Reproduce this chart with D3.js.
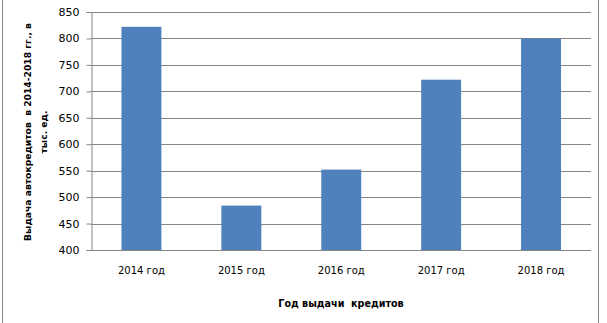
<!DOCTYPE html>
<html>
<head>
<meta charset="utf-8">
<script src="https://cdn.jsdelivr.net/npm/d3@7"></script>
<style>
  html, body { margin: 0; padding: 0; background: #fff; }
  svg { display: block; }
  text { font-family: "DejaVu Sans", Verdana, sans-serif; fill: #000; white-space: pre; }
</style>
</head>
<body>
<svg id="chart" width="607" height="323"></svg>
<script>
// Auto loans issued per year, thousand units
const years = ["2014 год", "2015 год", "2016 год", "2017 год", "2018 год"];
const loans = [822, 484, 552, 722, 800];
const yTicks = [400, 450, 500, 550, 600, 650, 700, 750, 800, 850];

const svg = d3.select("#chart");
const W = 607, H = 323;
const m = { left: 91.5, right: 16, top: 12, bottom: 73 };

// outer frame edges
svg.append("line").attr("x1", 2.5).attr("x2", 2.5).attr("y1", 0).attr("y2", H)
  .attr("stroke", "#868686").attr("stroke-width", 1);
svg.append("line").attr("x1", 598.5).attr("x2", 598.5).attr("y1", 0).attr("y2", H)
  .attr("stroke", "#868686").attr("stroke-width", 1);

const x = d3.scaleBand().domain(years).range([m.left, W - m.right]).paddingInner(0.6).paddingOuter(0.3);
const y = d3.scaleLinear().domain([400, 850]).range([H - m.bottom, m.top]);

// horizontal gridlines
svg.append("g").selectAll("line").data(yTicks).join("line")
  .attr("x1", m.left).attr("x2", W - m.right)
  .attr("y1", d => Math.round(y(d)) + 0.5).attr("y2", d => Math.round(y(d)) + 0.5)
  .attr("stroke", "#868686").attr("stroke-width", 1);

// bars
svg.append("g").selectAll("rect").data(loans).join("rect")
  .attr("x", (d, i) => x(years[i]))
  .attr("width", x.bandwidth())
  .attr("y", d => y(d))
  .attr("height", d => y(400) - y(d))
  .attr("fill", "#4F81BD");

// y axis
const yAxis = d3.axisLeft(y).tickValues(yTicks).tickSize(5).tickPadding(7);
const gy = svg.append("g").attr("transform", `translate(${m.left},0)`).call(yAxis);
gy.select(".domain").attr("stroke", "#868686");
gy.selectAll(".tick line").attr("stroke", "#868686");
gy.selectAll(".tick text").attr("font-size", 11).attr("font-family", "DejaVu Sans, sans-serif").attr("fill", "#000");

// x axis labels
const xAxis = d3.axisBottom(x).tickSize(0).tickPadding(17);
const gx = svg.append("g").attr("transform", `translate(0,${y(400)})`).call(xAxis);
gx.select(".domain").remove();
gx.selectAll(".tick text").attr("font-size", 10).attr("font-family", "DejaVu Sans, sans-serif").attr("fill", "#000");

// axis titles
svg.append("text")
  .attr("x", 341).attr("y", 307)
  .attr("text-anchor", "middle")
  .attr("font-size", 9.6).attr("font-weight", "bold")
  .text("Год выдачи  кредитов");

const yTitle = svg.append("text")
  .attr("transform", "translate(31,132) rotate(-90)")
  .attr("text-anchor", "middle")
  .attr("font-size", 9.2).attr("font-weight", "bold");
yTitle.append("tspan").attr("x", 0).attr("y", 0).text("Выдача автокредитов  в 2014-2018 гг., в");
yTitle.append("tspan").attr("x", 0).attr("y", 16).text("тыс. ед.");
</script>
</body>
</html>
